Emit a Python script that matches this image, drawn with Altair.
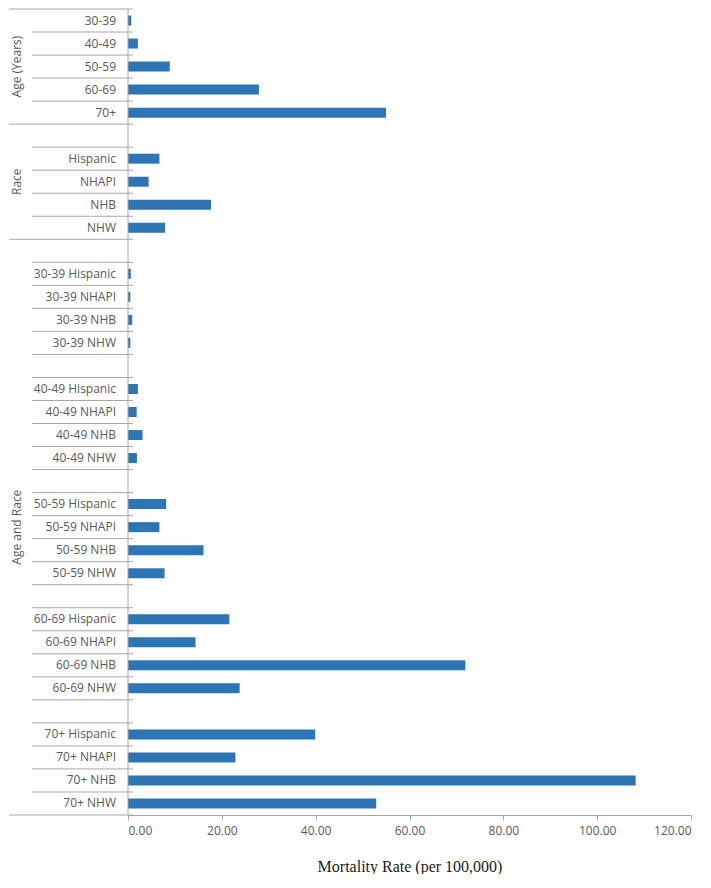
import altair as alt
import pandas as pd

# ---- data ----
age_labels = ["30-39", "40-49", "50-59", "60-69", "70+"]
age_values = [0.7, 2.1, 8.9, 27.9, 55.0]

race_labels = ["Hispanic", "NHAPI", "NHB", "NHW"]
race_values = [6.7, 4.4, 17.7, 7.9]

age_race_30_39 = [0.6, 0.5, 0.9, 0.5]
age_race_40_49 = [2.1, 1.85, 3.1, 1.9]
age_race_50_59 = [8.15, 6.7, 16.1, 7.8]
age_race_60_69 = [21.6, 14.4, 71.9, 23.8]
age_race_70p = [39.9, 22.9, 108.2, 52.9]

group_names = ["Age (Years)", "Race", "Age and Race"]

x_ticks = [0, 20, 40, 60, 80, 100, 120]

# ---- build row table (blank slots separate sub-groups) ----
labels, values, groups = [], [], []
for l, v in zip(age_labels, age_values):
    labels.append(l); values.append(v); groups.append(0)
labels.append(""); values.append(None); groups.append(1)
for l, v in zip(race_labels, race_values):
    labels.append(l); values.append(v); groups.append(1)
for a, vals in zip(age_labels, [age_race_30_39, age_race_40_49, age_race_50_59,
                                age_race_60_69, age_race_70p]):
    labels.append(""); values.append(None); groups.append(2)
    for r, v in zip(race_labels, vals):
        labels.append(f"{a} {r}"); values.append(v); groups.append(2)

n_rows = len(labels)
rows = pd.DataFrame({
    "label": labels,
    "value": values,
    "group": groups,
    "center": [i + 0.5 for i in range(n_rows)],
})
bars_df = rows.dropna(subset=["value"]).copy()
bars_df["zero"] = 0.0
text_df = rows[rows["label"] != ""][["label", "center"]].copy()

# boundaries between rows
group_starts = [0] + [i for i in range(1, n_rows) if groups[i] != groups[i - 1]] + [n_rows]
all_b = list(range(n_rows + 1))
minor_df = pd.DataFrame({"b": [b for b in all_b if b not in group_starts]})
major_df = pd.DataFrame({"b": group_starts})

grp_df = pd.DataFrame({
    "name": group_names,
    "mid": [(group_starts[k] + group_starts[k + 1]) / 2 for k in range(len(group_names))],
})

FONT = "Open Sans"
TXT = "#595959"
LINE = "#A6A6A6"
BLUE = "#2E75B6"
SERIF = "'Liberation Serif', 'Times New Roman', serif"

yscale = alt.Scale(domain=[0, n_rows], reverse=True, nice=False, zero=False)
xscale = alt.Scale(domain=[0, 120], nice=False)

bars = alt.Chart(bars_df).mark_rule(color=BLUE, strokeWidth=10, strokeCap="butt").encode(
    x=alt.X("zero:Q", scale=xscale,
            axis=alt.Axis(values=x_ticks, format=".2f", grid=False,
                          title="Mortality Rate (per 100,000)",
                          titleFont=SERIF, titleFontSize=16,
                          titleFontWeight="normal", titleColor="#1a1a1a",
                          titlePadding=22,
                          labelFont=FONT, labelFontSize=12, labelColor=TXT,
                          labelPadding=5,
                          domainColor=LINE, tickColor=LINE, tickSize=5)),
    x2="value:Q",
    y=alt.Y("center:Q", scale=yscale, axis=None),
)

minor_lines = alt.Chart(minor_df).mark_rule(color=LINE, strokeWidth=1).encode(
    y=alt.Y("b:Q", scale=yscale, axis=None),
    x=alt.value(-96),
    x2=alt.value(5),
)
major_lines = alt.Chart(major_df).mark_rule(color=LINE, strokeWidth=1).encode(
    y=alt.Y("b:Q", scale=yscale, axis=None),
    x=alt.value(-119),
    x2=alt.value(5),
)
yaxis_line = alt.Chart(pd.DataFrame({"y0": [0.0], "y1": [float(n_rows)]})).mark_rule(
    color=LINE, strokeWidth=1).encode(
    x=alt.value(0),
    y=alt.Y("y0:Q", scale=yscale, axis=None),
    y2="y1:Q",
)

cat_text = alt.Chart(text_df).mark_text(
    align="right", baseline="middle", font=FONT, fontSize=12, color=TXT).encode(
    x=alt.value(-12),
    y=alt.Y("center:Q", scale=yscale, axis=None),
    text="label:N",
)

grp_text = alt.Chart(grp_df).mark_text(
    angle=270, align="center", baseline="middle", font=FONT, fontSize=12, color=TXT).encode(
    x=alt.value(-111),
    y=alt.Y("mid:Q", scale=yscale, axis=None),
    text="name:N",
)

chart = alt.layer(bars, minor_lines, major_lines, yaxis_line, cat_text, grp_text).properties(
    width=563, height=806,
    padding=0,
).configure_view(stroke=None)

chart.save("out.html", embed_options={"renderer": "svg", "actions": False})
